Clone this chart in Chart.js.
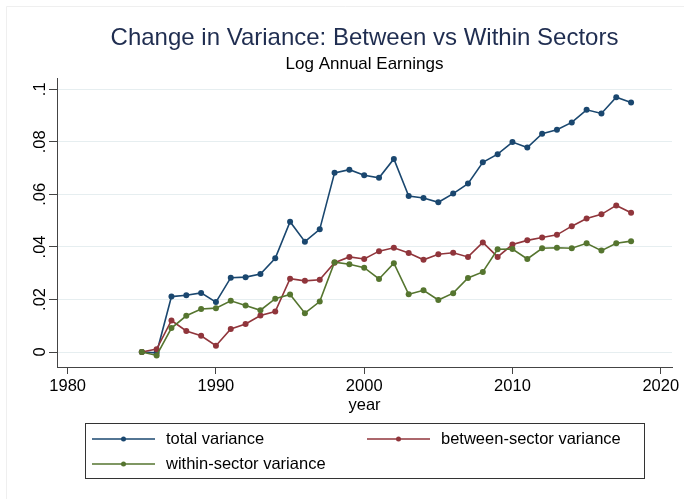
<!DOCTYPE html>
<html><head><meta charset="utf-8">
<script src="https://cdn.jsdelivr.net/npm/chart.js@4.4.0/dist/chart.umd.min.js"></script>
<style>html,body{margin:0;padding:0;background:#fff;} #wrap{width:684px;height:499px;position:relative;}</style>
</head><body><div id="wrap"><canvas id="c" width="684" height="499"></canvas></div>
<script>
const years = [1985,1986,1987,1988,1989,1990,1991,1992,1993,1994,1995,1996,1997,1998,1999,2000,2001,2002,2003,2004,2005,2006,2007,2008,2009,2010,2011,2012,2013,2014,2015,2016,2017,2018];
const totalVariance = [0,-0.0003,0.0211,0.0216,0.0225,0.0190,0.0283,0.0285,0.0297,0.0357,0.0496,0.0420,0.0467,0.0682,0.0694,0.0673,0.0663,0.0735,0.0594,0.0586,0.0570,0.0603,0.0641,0.0722,0.0753,0.0799,0.0778,0.0831,0.0846,0.0874,0.0922,0.0908,0.0970,0.0950];
const betweenVariance = [0,0.0011,0.0120,0.0080,0.0062,0.0024,0.0088,0.0107,0.0139,0.0154,0.0279,0.0271,0.0275,0.0340,0.0362,0.0354,0.0384,0.0397,0.0377,0.0351,0.0372,0.0378,0.0362,0.0417,0.0362,0.0409,0.0425,0.0436,0.0446,0.0479,0.0508,0.0524,0.0558,0.0530];
const withinVariance = [0,-0.0013,0.0091,0.0138,0.0164,0.0167,0.0195,0.0177,0.0159,0.0203,0.0219,0.0148,0.0192,0.0342,0.0334,0.0321,0.0278,0.0338,0.0220,0.0235,0.0198,0.0224,0.0282,0.0305,0.0391,0.0392,0.0354,0.0395,0.0397,0.0395,0.0414,0.0386,0.0414,0.0422];
const xTickValues = [1980,1990,2000,2010,2020];
const yTickValues = [0,0.02,0.04,0.06,0.08,0.1];
const yTickLabels = ['0','.02','.04','.06','.08','.1'];
const seriesLabels = ['total variance','between-sector variance','within-sector variance'];
const seriesColors = ['#1a476f','#90353b','#55752f'];
const titleText = 'Change in Variance: Between vs Within Sectors';
const subtitleText = 'Log Annual Earnings';
const xTitle = 'year';

const FONT = '"Liberation Sans", Arial, Helvetica, sans-serif';
const toPts = arr => years.map((yr,i)=>({x:yr,y:arr[i]}));

const decor = {
  id:'decor',
  afterDraw(chart){
    const {ctx, chartArea, scales} = chart;
    const ys = scales.y;
    ctx.save();
    // faint outer frame (top/left)
    ctx.strokeStyle = '#efefef'; ctx.lineWidth = 1;
    ctx.beginPath(); ctx.moveTo(6.5, 499); ctx.lineTo(6.5, 6.5); ctx.lineTo(684, 6.5); ctx.stroke();
    // rotated y tick labels
    ctx.fillStyle = '#000';
    ctx.font = '16.5px ' + FONT;
    ctx.textAlign = 'center'; ctx.textBaseline = 'alphabetic';
    yTickValues.forEach((v,i)=>{
      const py = ys.getPixelForValue(v);
      ctx.save(); ctx.translate(45, py); ctx.rotate(-Math.PI/2);
      ctx.fillText(yTickLabels[i], 0, 0); ctx.restore();
    });
    const cx = (chartArea.left + chartArea.right)/2;
    ctx.textBaseline = 'middle';
    ctx.fillStyle = '#1f2d50'; ctx.font = '24px ' + FONT;
    ctx.fillText(titleText, cx, 38);
    ctx.fillStyle = '#000'; ctx.font = '17px ' + FONT;
    ctx.fillText(subtitleText, cx, 64);
    ctx.font = '16.5px ' + FONT;
    ctx.fillText(xTitle, cx, 405);
    // legend
    ctx.strokeStyle = '#333'; ctx.lineWidth = 1;
    ctx.strokeRect(85.5, 423.5, 559, 55);
    const pos = [[92,439],[367,439],[92,464]];
    chart.data.datasets.forEach((ds,i)=>{
      const [lx,ly] = pos[i];
      ctx.strokeStyle = ds.borderColor; ctx.lineWidth = 1.6;
      ctx.beginPath(); ctx.moveTo(lx, ly); ctx.lineTo(lx+63, ly); ctx.stroke();
      ctx.fillStyle = ds.borderColor;
      ctx.beginPath(); ctx.arc(lx+31.5, ly, 2.5, 0, Math.PI*2); ctx.fill();
      ctx.fillStyle = '#000'; ctx.textAlign = 'left'; ctx.font = '16.5px ' + FONT;
      ctx.fillText(ds.label, lx+74, ly);
    });
    ctx.restore();
  }
};

const mkDs = (i, arr, order) => ({
  label: seriesLabels[i], data: toPts(arr), borderColor: seriesColors[i], backgroundColor: seriesColors[i],
  borderWidth: 1.6, pointRadius: 3, pointBorderWidth: 0, pointHoverRadius: 3, tension: 0, order
});

new Chart(document.getElementById('c'), {
  type: 'line',
  data: { datasets: [ mkDs(0,totalVariance,3), mkDs(1,betweenVariance,2), mkDs(2,withinVariance,1) ] },
  options: {
    responsive: false, animation: false, devicePixelRatio: 1,
    layout: { padding: { top: 78, right: 12, left: 0, bottom: 0 } },
    plugins: { legend: { display: false }, tooltip: { enabled: false }, title: { display: false } },
    scales: {
      x: {
        type: 'linear', min: 1979.28, max: 2020.76,
        afterBuildTicks: s => { s.ticks = xTickValues.map(v=>({value:v})); },
        afterFit: s => { s.height = 132; },
        grid: { drawOnChartArea: false, drawTicks: true, tickLength: 7, tickColor: '#444', color: '#444' },
        border: { display: true, color: '#444', width: 1 },
        ticks: { color: '#000', font: { family: FONT, size: 16.5 }, padding: 3, maxRotation: 0, callback: v => String(v) }
      },
      y: {
        type: 'linear', min: -0.0057, max: 0.1043,
        afterBuildTicks: s => { s.ticks = yTickValues.map(v=>({value:v})); },
        afterFit: s => { s.width = 57; },
        grid: { drawOnChartArea: true, drawTicks: true, tickLength: 8, tickColor: '#444', color: '#e6eef0', lineWidth: 1 },
        border: { display: true, color: '#444', width: 1 },
        ticks: { display: false }
      }
    }
  },
  plugins: [decor]
});
</script></body></html>
